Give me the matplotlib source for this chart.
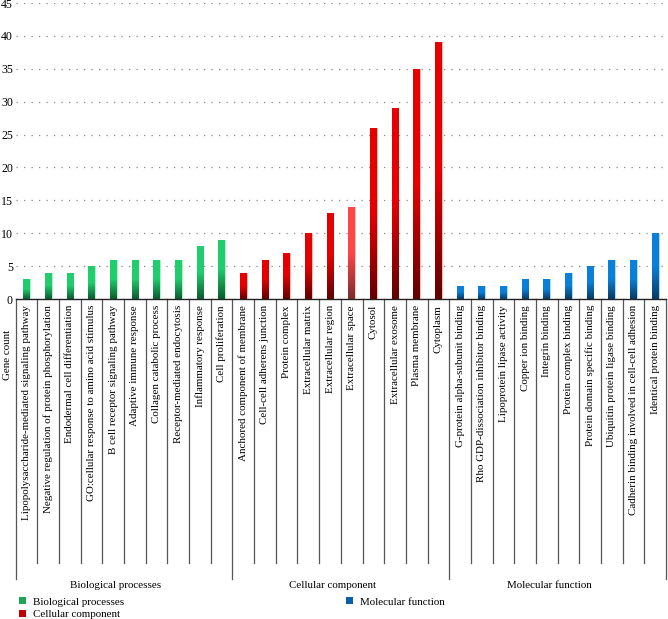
import numpy as np
import matplotlib
matplotlib.use("Agg")
import matplotlib.pyplot as plt
from matplotlib.colors import LinearSegmentedColormap
from matplotlib.patches import Patch
import matplotlib.transforms as mtransforms

plt.rcParams['font.family'] = ['Liberation Serif', 'DejaVu Serif']

# === data ===
bp_terms = ["Lipopolysaccharide-mediated signaling pathway",
            "Negative regulation of protein phosphorylation",
            "Endodermal cell differentiation",
            "GO:cellular response to amino acid stimulus",
            "B cell receptor signaling pathway",
            "Adaptive immune response",
            "Collagen catabolic process",
            "Receptor-mediated endocytosis",
            "Inflammatory response",
            "Cell proliferation"]
bp_counts = [3, 4, 4, 5, 6, 6, 6, 6, 8, 9]

cc_terms = ["Anchored component of membrane",
            "Cell-cell adherens junction",
            "Protein complex",
            "Extracellular matrix",
            "Extracellular region",
            "Extracellular space",
            "Cytosol",
            "Extracellular exosome",
            "Plasma membrane",
            "Cytoplasm"]
cc_counts = [4, 6, 7, 10, 13, 14, 26, 29, 35, 39]

mf_terms = ["G-protein alpha-subunit binding",
            "Rho GDP-dissociation inhibitor binding",
            "Lipoprotein lipase activity",
            "Copper ion binding",
            "Integrin binding",
            "Protein complex binding",
            "Protein domain specific binding",
            "Ubiquitin protein ligase binding",
            "Cadherin binding involved in cell-cell adhesion",
            "Identical protein binding"]
mf_counts = [2, 2, 2, 3, 3, 4, 5, 6, 6, 10]

groups = ["Biological processes", "Cellular component", "Molecular function"]

# === style ===
grad = {
    "bp": ("#0c5a2e", "#21cd6d", "#8fe8b4"),
    "cc": ("#600000", "#e60000", "#ff9a9a"),
    "cc_light": ("#7a2e2e", "#ff4646", "#ffb0b0"),
    "mf": ("#093a62", "#0b80d8", "#8cc8f0"),
}
legend_colors = ["#1fa356", "#c00000", "#0b5fa5"]

terms = bp_terms + cc_terms + mf_terms
counts = bp_counts + cc_counts + mf_counts
keys = (["bp"] * len(bp_terms) + ["cc"] * len(cc_terms) + ["mf"] * len(mf_terms))
keys[len(bp_terms) + cc_terms.index("Extracellular space")] = "cc_light"

fig = plt.figure(figsize=(6.68, 6.19), dpi=100)
W, H = 668, 619
x0, x1, y0, y1 = 15.7, 666, 299, 3
ax = fig.add_axes([x0 / W, 1 - y0 / H, (x1 - x0) / W, (y0 - y1) / H])
ax_h = y0 - y1
fs = 7.9

n = len(terms)
xs = np.arange(n) + 0.5
bars = ax.bar(xs, counts, width=0.31, facecolor="none", edgecolor="none", zorder=3)

gy = np.linspace(0, 1, 256).reshape(-1, 1)
for b, k in zip(bars, keys):
    dark, bright, edge = grad[k]
    cmap = LinearSegmentedColormap.from_list(k, [dark, bright, bright])
    bx, by = b.get_x(), b.get_y()
    bw, bh = b.get_width(), b.get_height()
    im = ax.imshow(gy, cmap=cmap, aspect="auto", origin="lower",
                   extent=[bx, bx + bw, by, by + bh], zorder=3)
    im.set_clip_path(b)
    b.set_edgecolor(edge)
    b.set_linewidth(0.5)

ax.set_xlim(0, n)
ax.set_ylim(0, 45)
ax.set_yticks(np.arange(0, 50, 5))
ax.set_xticks([])
ax.tick_params(axis="y", length=0, pad=2, labelsize=8.6)
ax.yaxis.grid(True, linestyle=(0, (1, 5)), color="#8a8a8a", linewidth=0.9)
ax.set_axisbelow(True)
for s in ["left", "right", "top"]:
    ax.spines[s].set_visible(False)
ax.spines["bottom"].set_linewidth(1.0)
ax.spines["bottom"].set_color("#222222")

trans = mtransforms.blended_transform_factory(ax.transData, ax.transAxes)

def ay(py):
    return (y0 - py) / ax_h

# category labels
for x, t in zip(xs, terms):
    ax.text(x, ay(305), t, rotation=90, ha="center", va="top",
            fontsize=fs, transform=trans)

# separators below the axis
for i in range(n + 1):
    if i % 10 == 0:
        ax.plot([i, i], [0, ay(579)], color="#555555", lw=0.9,
                transform=trans, clip_on=False)
    else:
        ax.plot([i, i], [0, ay(563)], color="#555555", lw=0.9,
                transform=trans, clip_on=False)

for g, name in enumerate(groups):
    ax.text(g * 10 + 4.6, ay(585), name, ha="center", va="center",
            fontsize=fs, transform=trans)

ax.text(-0.38, ay(355), "Gene count", rotation=90, ha="center", va="center",
        fontsize=fs, transform=trans)

# legend
h_bp = Patch(facecolor=legend_colors[0], label=groups[0])
h_cc = Patch(facecolor=legend_colors[1], label=groups[1])
h_mf = Patch(facecolor=legend_colors[2], label=groups[2])
kw = dict(frameon=False, fontsize=fs, handlelength=0.55, handleheight=0.55,
          handletextpad=0.7, labelspacing=0.3, borderpad=0, loc="upper left")
fig.legend(handles=[h_bp, h_cc], bbox_to_anchor=(14 / W, 1 - 592 / H), **kw)
fig.legend(handles=[h_mf], bbox_to_anchor=(341 / W, 1 - 592 / H), **kw)

plt.savefig("out.png", dpi=100)
